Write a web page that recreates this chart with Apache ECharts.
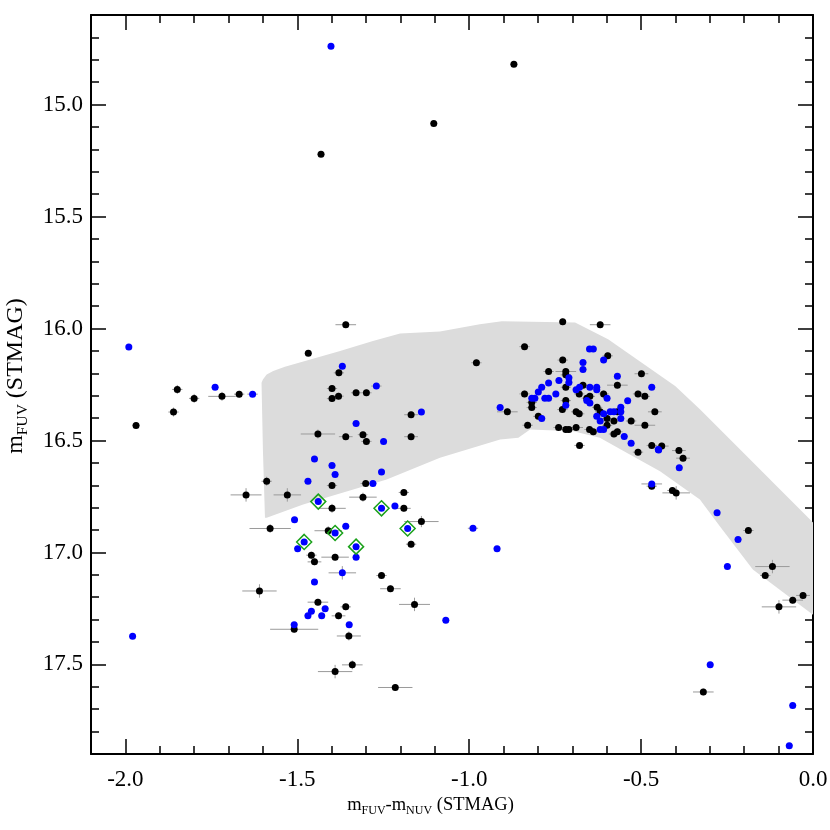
<!DOCTYPE html>
<html>
<head>
<meta charset="UTF-8">
<title>FUV CMD</title>
<script src="https://cdn.jsdelivr.net/npm/echarts@6/dist/echarts.min.js"></script>
<style>
    html, body { margin: 0; padding: 0; background: #fff; }
    #chart { width: 830px; height: 830px; }
</style>
</head>
<body>
<div id="chart"></div>
<script>
// tick positions
const xMajor = [-2.0, -1.5, -1.0, -0.5];
const yLabels = [15.0, 15.5, 16.0, 16.5, 17.0, 17.5];

// grey band outline (colour, magnitude)
const bandX = [-1.604, -1.600, -1.589, -1.570, -1.536, -1.378, -1.280, -1.201, -1.085, -0.969, -0.905, -0.692, -0.596, -0.401, -0.329, -0.212, 0.0,
               0.0, -0.175, -0.271, -0.329, -0.445, -0.542, -0.620, -0.697, -0.823, -0.857, -0.910, -1.085, -1.240, -1.483, -1.589, -1.594, -1.600];
const bandY = [16.242, 16.228, 16.205, 16.190, 16.171, 16.101, 16.056, 16.022, 16.013, 15.981, 15.967, 15.973, 16.048, 16.257, 16.361, 16.540, 16.866,
               17.278, 17.076, 16.883, 16.764, 16.637, 16.555, 16.488, 16.459, 16.451, 16.488, 16.496, 16.577, 16.674, 16.786, 16.845, 16.845, 16.540];

// black stars: [colour, mag, colour err, mag err]
const blackPts = [
    [-0.870, 14.820, 0.010, 0.010], [-1.103, 15.085, 0.010, 0.010], [-1.431, 15.222, 0.010, 0.010],
    [-1.468, 16.111, 0.010, 0.010], [-1.849, 16.272, 0.015, 0.020], [-1.800, 16.312, 0.015, 0.020],
    [-1.719, 16.303, 0.040, 0.020], [-1.669, 16.293, 0.015, 0.015], [-1.860, 16.373, 0.015, 0.020],
    [-1.969, 16.433, 0.010, 0.015], [-1.440, 16.471, 0.050, 0.020], [-1.589, 16.682, 0.015, 0.020],
    [-1.649, 16.743, 0.045, 0.030], [-1.529, 16.743, 0.040, 0.030], [-1.579, 16.893, 0.060, 0.020],
    [-1.410, 16.903, 0.040, 0.020], [-1.359, 15.983, 0.030, 0.015], [-1.379, 16.198, 0.015, 0.015],
    [-1.399, 16.268, 0.015, 0.015], [-1.329, 16.287, 0.015, 0.015], [-1.299, 16.287, 0.015, 0.015],
    [-1.399, 16.313, 0.015, 0.015], [-1.380, 16.302, 0.015, 0.015], [-1.169, 16.385, 0.020, 0.015],
    [-1.359, 16.483, 0.020, 0.015], [-1.309, 16.474, 0.015, 0.015], [-1.299, 16.504, 0.015, 0.015],
    [-1.169, 16.483, 0.020, 0.015], [-0.979, 16.153, 0.015, 0.015], [-1.399, 16.701, 0.015, 0.015],
    [-1.301, 16.692, 0.015, 0.015], [-1.399, 16.803, 0.040, 0.020], [-1.309, 16.753, 0.040, 0.020],
    [-1.190, 16.732, 0.015, 0.015], [-1.190, 16.803, 0.020, 0.015], [-1.139, 16.862, 0.050, 0.025],
    [-1.169, 16.963, 0.015, 0.015], [-1.459, 17.012, 0.015, 0.015], [-1.450, 17.042, 0.020, 0.015],
    [-1.390, 17.021, 0.040, 0.015], [-1.255, 17.103, 0.015, 0.015], [-1.229, 17.162, 0.030, 0.015],
    [-1.610, 17.172, 0.050, 0.030], [-1.159, 17.232, 0.045, 0.030], [-1.440, 17.222, 0.030, 0.015],
    [-1.359, 17.243, 0.015, 0.015], [-1.380, 17.283, 0.020, 0.015], [-1.509, 17.343, 0.070, 0.015],
    [-1.350, 17.373, 0.035, 0.020], [-1.340, 17.502, 0.030, 0.020], [-1.390, 17.532, 0.050, 0.030],
    [-1.215, 17.603, 0.050, 0.015],
    [-0.509, 16.552, 0.015, 0.015], [-0.390, 16.545, 0.020, 0.015], [-0.378, 16.579, 0.020, 0.015],
    [-0.469, 16.704, 0.015, 0.015], [-0.409, 16.723, 0.015, 0.015], [-0.398, 16.734, 0.040, 0.030],
    [-0.188, 16.902, 0.015, 0.015], [-0.118, 17.063, 0.050, 0.030], [-0.139, 17.103, 0.015, 0.015],
    [-0.029, 17.192, 0.020, 0.015], [-0.059, 17.213, 0.030, 0.015], [-0.099, 17.243, 0.050, 0.030],
    [-0.319, 17.623, 0.030, 0.015],
    [-0.728, 15.970, 0.010, 0.015], [-0.619, 15.983, 0.030, 0.015], [-0.839, 16.081, 0.015, 0.010],
    [-0.597, 16.122, 0.015, 0.015], [-0.728, 16.141, 0.015, 0.015], [-0.769, 16.192, 0.015, 0.015],
    [-0.719, 16.192, 0.030, 0.015], [-0.719, 16.207, 0.015, 0.015], [-0.499, 16.202, 0.020, 0.015],
    [-0.569, 16.253, 0.030, 0.015], [-0.669, 16.253, 0.015, 0.015], [-0.719, 16.262, 0.015, 0.015],
    [-0.839, 16.292, 0.015, 0.015], [-0.680, 16.292, 0.015, 0.015], [-0.649, 16.303, 0.015, 0.015],
    [-0.609, 16.292, 0.015, 0.015], [-0.509, 16.292, 0.015, 0.015], [-0.489, 16.303, 0.015, 0.015],
    [-0.818, 16.330, 0.015, 0.015], [-0.818, 16.353, 0.015, 0.015], [-0.889, 16.372, 0.030, 0.015],
    [-0.719, 16.322, 0.015, 0.015], [-0.729, 16.362, 0.015, 0.015], [-0.658, 16.311, 0.015, 0.015],
    [-0.628, 16.352, 0.015, 0.015], [-0.619, 16.372, 0.015, 0.015], [-0.569, 16.372, 0.015, 0.015],
    [-0.460, 16.372, 0.020, 0.015], [-0.689, 16.372, 0.015, 0.015], [-0.680, 16.381, 0.015, 0.015],
    [-0.799, 16.392, 0.015, 0.015], [-0.599, 16.402, 0.015, 0.015], [-0.579, 16.413, 0.015, 0.015],
    [-0.529, 16.413, 0.015, 0.015], [-0.489, 16.432, 0.030, 0.015], [-0.830, 16.432, 0.015, 0.015],
    [-0.740, 16.442, 0.015, 0.015], [-0.719, 16.451, 0.015, 0.015], [-0.710, 16.451, 0.015, 0.015],
    [-0.689, 16.442, 0.020, 0.015], [-0.650, 16.451, 0.015, 0.015], [-0.639, 16.461, 0.015, 0.015],
    [-0.599, 16.432, 0.015, 0.015], [-0.579, 16.471, 0.015, 0.015], [-0.569, 16.461, 0.015, 0.015],
    [-0.679, 16.522, 0.015, 0.015], [-0.469, 16.522, 0.015, 0.015], [-0.440, 16.525, 0.020, 0.015]
];

// blue stars: [colour, mag, colour err, mag err]
const bluePts = [
    [-1.402, 14.740, 0.005, 0.005], [-1.990, 16.083, 0.005, 0.005], [-1.739, 16.262, 0.010, 0.010],
    [-1.630, 16.293, 0.015, 0.010], [-1.450, 16.583, 0.010, 0.010], [-1.469, 16.682, 0.010, 0.010],
    [-1.439, 16.773, 0.010, 0.010], [-1.508, 16.854, 0.010, 0.010], [-1.480, 16.953, 0.010, 0.010],
    [-1.369, 16.168, 0.010, 0.010], [-1.270, 16.257, 0.015, 0.010], [-1.139, 16.373, 0.010, 0.010],
    [-1.329, 16.424, 0.010, 0.010], [-1.249, 16.504, 0.010, 0.010], [-1.399, 16.612, 0.010, 0.010],
    [-1.390, 16.652, 0.010, 0.010], [-1.255, 16.641, 0.010, 0.010], [-1.280, 16.692, 0.010, 0.010],
    [-1.255, 16.803, 0.010, 0.010], [-1.216, 16.793, 0.010, 0.010], [-1.390, 16.913, 0.010, 0.010],
    [-1.359, 16.883, 0.010, 0.010], [-1.179, 16.893, 0.010, 0.010], [-1.499, 16.983, 0.010, 0.010],
    [-1.329, 16.974, 0.010, 0.010], [-1.329, 17.021, 0.010, 0.010], [-1.369, 17.091, 0.040, 0.030],
    [-1.450, 17.132, 0.010, 0.010], [-1.459, 17.262, 0.010, 0.010], [-1.419, 17.251, 0.010, 0.010],
    [-1.469, 17.283, 0.010, 0.010], [-1.429, 17.283, 0.010, 0.010], [-1.349, 17.323, 0.010, 0.010],
    [-1.509, 17.323, 0.010, 0.010], [-1.068, 17.303, 0.010, 0.010], [-1.979, 17.374, 0.005, 0.005],
    [-0.989, 16.892, 0.015, 0.010], [-0.919, 16.984, 0.010, 0.010],
    [-0.449, 16.542, 0.010, 0.010], [-0.389, 16.622, 0.010, 0.010], [-0.469, 16.694, 0.030, 0.010],
    [-0.279, 16.823, 0.010, 0.010], [-0.218, 16.942, 0.010, 0.010], [-0.249, 17.063, 0.010, 0.010],
    [-0.299, 17.502, 0.010, 0.010], [-0.059, 17.683, 0.010, 0.010], [-0.069, 17.863, 0.010, 0.010],
    [-0.650, 16.092, 0.010, 0.010], [-0.639, 16.092, 0.010, 0.010], [-0.609, 16.141, 0.010, 0.010],
    [-0.669, 16.152, 0.010, 0.010], [-0.669, 16.183, 0.010, 0.010], [-0.710, 16.220, 0.010, 0.010],
    [-0.569, 16.213, 0.010, 0.010], [-0.739, 16.232, 0.010, 0.010], [-0.769, 16.243, 0.010, 0.010],
    [-0.710, 16.241, 0.010, 0.010], [-0.469, 16.262, 0.010, 0.010], [-0.679, 16.262, 0.010, 0.010],
    [-0.689, 16.273, 0.010, 0.010], [-0.649, 16.262, 0.010, 0.010], [-0.629, 16.262, 0.010, 0.010],
    [-0.629, 16.273, 0.010, 0.010], [-0.789, 16.262, 0.010, 0.010], [-0.799, 16.283, 0.010, 0.010],
    [-0.748, 16.292, 0.010, 0.010], [-0.599, 16.311, 0.010, 0.010], [-0.539, 16.323, 0.010, 0.010],
    [-0.809, 16.311, 0.010, 0.010], [-0.818, 16.311, 0.010, 0.010], [-0.780, 16.311, 0.010, 0.010],
    [-0.769, 16.311, 0.010, 0.010], [-0.910, 16.353, 0.010, 0.010], [-0.719, 16.343, 0.010, 0.010],
    [-0.658, 16.322, 0.010, 0.010], [-0.649, 16.333, 0.010, 0.010], [-0.609, 16.381, 0.010, 0.010],
    [-0.629, 16.392, 0.010, 0.010], [-0.590, 16.372, 0.010, 0.010], [-0.579, 16.372, 0.010, 0.010],
    [-0.559, 16.352, 0.010, 0.010], [-0.559, 16.372, 0.010, 0.010], [-0.789, 16.402, 0.010, 0.010],
    [-0.619, 16.413, 0.010, 0.010], [-0.559, 16.402, 0.010, 0.010], [-0.619, 16.451, 0.010, 0.010],
    [-0.609, 16.451, 0.010, 0.010], [-0.549, 16.482, 0.010, 0.010], [-0.529, 16.512, 0.010, 0.010],
    [-0.450, 16.540, 0.010, 0.010]
];

// stars marked with green diamonds
const markedPts = [
    [-1.439, 16.773], [-1.480, 16.953], [-1.255, 16.803],
    [-1.390, 16.913], [-1.179, 16.893], [-1.329, 16.974]
];

const FONT = 'Liberation Serif';
const chart = echarts.init(document.getElementById('chart'), null, { renderer: 'canvas' });

// labels only every 0.5, blank on the 0.1 minor ticks
function fmt(v) {
    const r = Math.round(v * 10);
    return r % 5 === 0 ? '{t|' + (r / 10).toFixed(1) + '}' : '';
}
const tickRich = { t: { fontFamily: FONT, fontSize: 23, color: '#000' } };

// minor ticks every 0.1 come from the interval, major ticks from a second axis
function xAxes(pos, withLabels) {
    const minor = {
        type: 'value', position: pos, min: -2.1, max: 0, interval: 0.1,
        axisLine: { show: true, onZero: false, lineStyle: { color: '#000', width: 2 } },
        axisTick: { show: true, inside: true, length: 8, lineStyle: { color: '#000', width: 1.5 } },
        axisLabel: withLabels ? {
            show: true, formatter: fmt, margin: 14, showMinLabel: true, showMaxLabel: true,
            color: '#000', fontFamily: FONT, fontSize: 23, rich: tickRich
        } : { show: false },
        splitLine: { show: false }
    };
    const major = {
        type: 'value', position: pos, min: -2.1, max: 0, interval: 0.1,
        axisLine: { show: false, onZero: false },
        axisTick: { show: true, inside: true, length: 15, customValues: xMajor, lineStyle: { color: '#000', width: 1.5 } },
        axisLabel: { show: false },
        splitLine: { show: false }
    };
    return [minor, major];
}

function yAxes(pos, withLabels) {
    const minor = {
        type: 'value', position: pos, min: 14.6, max: 17.9, interval: 0.1, inverse: true,
        axisLine: { show: true, onZero: false, lineStyle: { color: '#000', width: 2 } },
        axisTick: { show: true, inside: true, length: 8, lineStyle: { color: '#000', width: 1.5 } },
        axisLabel: withLabels ? {
            show: true, formatter: fmt, margin: 8,
            color: '#000', fontFamily: FONT, fontSize: 23, rich: tickRich
        } : { show: false },
        splitLine: { show: false }
    };
    const major = {
        type: 'value', position: pos, min: 14.6, max: 17.9, interval: 0.1, inverse: true,
        axisLine: { show: false, onZero: false },
        axisTick: { show: true, inside: true, length: 15, customValues: yLabels, lineStyle: { color: '#000', width: 1.5 } },
        axisLabel: { show: false },
        splitLine: { show: false }
    };
    return [minor, major];
}

const xs = xAxes('bottom', true).concat(xAxes('top', false));
const ys = yAxes('left', true).concat(yAxes('right', false));

xs[0].name = '{n|m}{s|FUV}{n|-m}{s|NUV}{n| (STMAG)}';
xs[0].nameLocation = 'middle';
xs[0].nameGap = 30;
xs[0].nameTextStyle = {
    padding: [0, 43, 0, 0],
    rich: {
        n: { fontFamily: FONT, fontSize: 18.5, color: '#000' },
        s: { fontFamily: FONT, fontSize: 12, color: '#000', padding: [11, 0, 0, 0] }
    }
};
ys[0].name = '{n|m}{s|FUV}{n| (STMAG)}';
ys[0].nameLocation = 'middle';
ys[0].nameGap = 60;
ys[0].nameRotate = 90;
ys[0].nameTextStyle = {
    padding: [0, 0, 0, 17],
    rich: {
        n: { fontFamily: FONT, fontSize: 24, color: '#000' },
        s: { fontFamily: FONT, fontSize: 15.5, color: '#000', padding: [14, 0, 0, 0] }
    }
};

const band = bandX.map((x, i) => [x, bandY[i]]);

function renderBand(params, api) {
    if (params.dataIndex !== 0) return null;
    const pts = band.map(p => api.coord(p));
    return { type: 'polygon', shape: { points: pts }, style: { fill: '#dcdcdc', stroke: null } };
}

function renderErr(params, api) {
    const x = api.value(0), y = api.value(1), ex = api.value(2), ey = api.value(3);
    const a = api.coord([x - ex, y]), b = api.coord([x + ex, y]);
    const c = api.coord([x, y - ey]), d = api.coord([x, y + ey]);
    const st = { stroke: '#9a9a9a', lineWidth: 1 };
    return {
        type: 'group',
        children: [
            { type: 'line', shape: { x1: a[0], y1: a[1], x2: b[0], y2: b[1] }, style: st },
            { type: 'line', shape: { x1: c[0], y1: c[1], x2: d[0], y2: d[1] }, style: st }
        ]
    };
}

chart.setOption({
    animation: false,
    backgroundColor: '#fff',
    grid: { left: 91, right: 17, top: 15, bottom: 76, outerBoundsMode: 'none' },
    xAxis: xs,
    yAxis: ys,
    series: [
        {
            type: 'custom', name: 'band', renderItem: renderBand, data: band,
            encode: { x: 0, y: 1 }, silent: true, z: 1
        },
        {
            type: 'custom', name: 'err', renderItem: renderErr, data: blackPts.concat(bluePts),
            encode: { x: 0, y: 1 }, silent: true, z: 2
        },
        {
            type: 'scatter', name: 'black', data: blackPts.map(p => [p[0], p[1]]),
            symbolSize: 7, itemStyle: { color: '#000', opacity: 1 }, z: 3
        },
        {
            type: 'scatter', name: 'blue', data: bluePts.map(p => [p[0], p[1]]),
            symbolSize: 7, itemStyle: { color: '#0000ff', opacity: 1 }, z: 4
        },
        {
            type: 'scatter', name: 'marked', data: markedPts, symbol: 'diamond',
            symbolSize: 15, itemStyle: { color: 'rgba(0,0,0,0)', borderColor: '#1aa11a', borderWidth: 1.5, opacity: 1 }, z: 5
        }
    ]
});
</script>
</body>
</html>
